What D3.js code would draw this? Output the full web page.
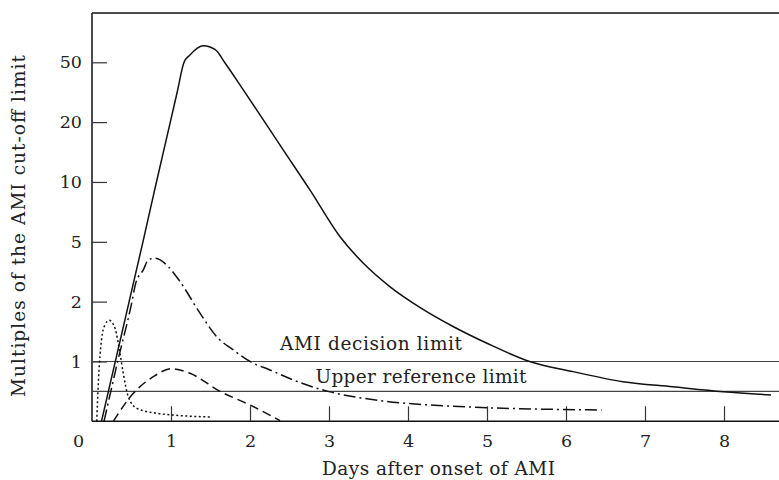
<!DOCTYPE html>
<html>
<head>
<meta charset="utf-8">
<script src="https://cdn.jsdelivr.net/npm/d3@7"></script>
<style>
  body { margin: 0; background: #fff; }
  text { font-family: "DejaVu Serif", "Liberation Serif", serif; fill: #222; }
</style>
</head>
<body>
<div id="chart"></div>
<script>
// y-axis tick values (multiples of the AMI cut-off limit), evenly spaced on the figure
const yTicks = [1, 2, 5, 10, 20, 50];
const yBottom = 0.25;
const xTicks = [0, 1, 2, 3, 4, 5, 6, 7, 8];

const decisionLimit = 1;
const upperRefLimit = 0.5;

// [days after onset, multiples]
const troponin = [
  [0.12, 0.25], [0.645, 5], [0.816, 10], [0.991, 20], [1.078, 31.6], [1.165, 50], [1.24, 56],
  [1.41, 64.4], [1.56, 60.6], [1.684, 49.5], [1.915, 32.8], [2.42, 14.5],
  [2.76, 9.1], [3.14, 5.3], [3.435, 3.6], [3.77, 2.52], [4.17, 1.85], [4.57, 1.5], [5.0, 1.235],
  [5.54, 1.0], [6.09, 0.79], [6.72, 0.626], [7.35, 0.557], [7.99, 0.497], [8.595, 0.46]
];
const ckmb = [
  [0.152, 0.25], [0.325, 1], [0.506, 2], [0.554, 2.66], [0.649, 3.25], [0.713, 3.79],
  [0.797, 3.89], [0.966, 3.42], [1.114, 2.72], [1.367, 1.75], [1.578, 1.333], [1.789, 1.142],
  [2.0, 1.0], [2.253, 0.821], [2.548, 0.651], [2.89, 0.525], [3.0, 0.497], [3.687, 0.4],
  [4.53, 0.356], [5.8, 0.33], [6.45, 0.325]
];
const myoglobin = [
  [0.06, 0.25], [0.082, 0.65], [0.12, 1.28], [0.165, 1.53], [0.219, 1.61], [0.291, 1.47],
  [0.354, 1.1], [0.396, 0.76], [0.459, 0.442], [0.566, 0.338], [0.819, 0.301], [1.029, 0.289],
  [1.494, 0.276]
];
const ldh = [
  [0.27, 0.25], [0.523, 0.478], [0.776, 0.703], [1.009, 0.845], [1.24, 0.76], [1.62, 0.5],
  [2.0, 0.365], [2.38, 0.254]
];

const width = 779;
const height = 480;
const margin = { top: 13, left: 92, bottom: 59 };
const plotBottom = height - margin.bottom + 0.3;
const step = (plotBottom - 62.3) / yTicks.length;

const svg = d3.select("#chart").append("svg").attr("width", width).attr("height", height);

const xScale = d3.scaleLinear().domain([0, 8]).range([margin.left, margin.left + 8 * 79]);

const yDomain = [yBottom, ...yTicks];
const yScale = d3
  .scaleLog()
  .domain(yDomain)
  .range(yDomain.map((d, i) => plotBottom - i * step));

// frame
svg.append("line").attr("x1", margin.left).attr("x2", width).attr("y1", margin.top).attr("y2", margin.top)
  .attr("stroke", "#111").attr("stroke-width", 1.3);
svg.append("line").attr("x1", margin.left).attr("x2", margin.left).attr("y1", margin.top).attr("y2", plotBottom)
  .attr("stroke", "#111").attr("stroke-width", 1.5);
svg.append("line").attr("x1", margin.left).attr("x2", width).attr("y1", plotBottom).attr("y2", plotBottom)
  .attr("stroke", "#111").attr("stroke-width", 1.5);

// axes
const xAxis = d3.axisBottom(xScale).tickValues(xTicks).tickSizeInner(-15).tickSizeOuter(0).tickPadding(13);
const gx = svg.append("g").attr("transform", `translate(0,${plotBottom})`).call(xAxis);
gx.select(".domain").remove();
gx.selectAll(".tick line").attr("stroke", "#333").attr("stroke-width", 1.2);
gx.selectAll(".tick").filter((d) => d === 0).select("line").remove();
gx.selectAll(".tick").filter((d) => d === 0).select("text").attr("dx", -14);
gx.selectAll("text").style("font-size", "17.5px").attr("fill", "#222");

const yAxis = d3.axisLeft(yScale).tickValues(yTicks).tickFormat(d3.format("d")).tickSizeInner(-15).tickSizeOuter(0).tickPadding(10);
const gy = svg.append("g").attr("transform", `translate(${margin.left},0)`).call(yAxis);
gy.select(".domain").remove();
gy.selectAll(".tick line").attr("stroke", "#333").attr("stroke-width", 1.2);
gy.selectAll("text").style("font-size", "17.5px").attr("fill", "#222");

// limit lines
[decisionLimit, upperRefLimit].forEach((v) => {
  svg.append("line").attr("x1", margin.left).attr("x2", width)
    .attr("y1", yScale(v)).attr("y2", yScale(v))
    .attr("stroke", "#444").attr("stroke-width", 1.1);
});

svg.append("text").attr("x", 371).attr("y", yScale(decisionLimit) - 11).attr("text-anchor", "middle")
  .style("font-size", "18.5px").attr("textLength", 182).attr("lengthAdjust", "spacing")
  .text("AMI decision limit");
svg.append("text").attr("x", 421).attr("y", yScale(upperRefLimit) - 8).attr("text-anchor", "middle")
  .style("font-size", "18.5px").attr("textLength", 211).attr("lengthAdjust", "spacing")
  .text("Upper reference limit");

// curves
const line = d3.line().x((d) => xScale(d[0])).y((d) => yScale(d[1])).curve(d3.curveMonotoneX);

const series = [
  { data: troponin, dash: null },
  { data: ckmb, dash: "12,4,2,4" },
  { data: myoglobin, dash: "2,2.5" },
  { data: ldh, dash: "9,5" },
];

svg.selectAll(".curve").data(series).join("path")
  .attr("class", "curve")
  .attr("d", (d) => line(d.data))
  .attr("fill", "none")
  .attr("stroke", "#111")
  .attr("stroke-width", 1.5)
  .attr("stroke-dasharray", (d) => d.dash);

// titles
svg.append("text").attr("x", 438.5).attr("y", 475).attr("text-anchor", "middle")
  .style("font-size", "18.5px").attr("textLength", 233).attr("lengthAdjust", "spacing")
  .text("Days after onset of AMI");
svg.append("text").attr("transform", "translate(25,226) rotate(-90)").attr("text-anchor", "middle")
  .style("font-size", "18.5px").attr("textLength", 342).attr("lengthAdjust", "spacing")
  .text("Multiples of the AMI cut-off limit");
</script>
</body>
</html>
